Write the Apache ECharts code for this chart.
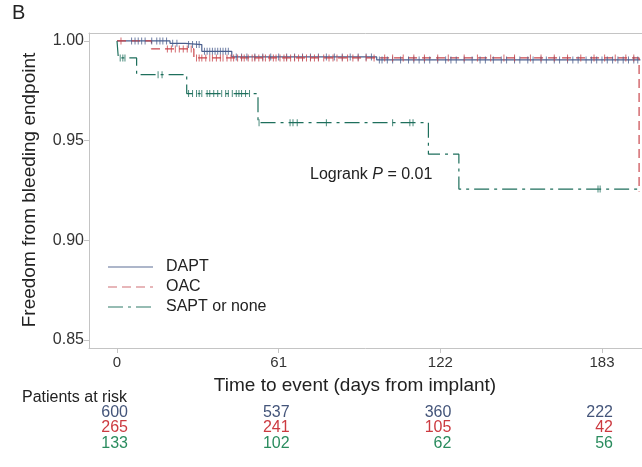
<!DOCTYPE html>
<html>
<head>
<meta charset="utf-8">
<script src="https://cdn.jsdelivr.net/npm/echarts@6/dist/echarts.min.js"></script>
<style>
  html, body { margin: 0; padding: 0; background: #ffffff; }
  #chart { width: 642px; height: 467px; }
</style>
</head>
<body>
<div id="chart"></div>
<script>
// Kaplan-Meier curves: freedom from bleeding endpoint by antithrombotic regimen
const groupNames = ['DAPT', 'OAC', 'SAPT or none'];

// Step functions: survival estimate after each event day
const daptDays = [0, 20, 25.7, 32, 43.3, 98, 197.5];
const daptSurv = [1.000, 0.9988, 0.9982, 0.9948, 0.9920, 0.9905, 0.9905];

const oacDays = [0, 13, 29, 197];
const oacSurv = [1.000, 0.9960, 0.9915, 0.9245];

const saptDays = [0, 0.5, 7.4, 26.3, 53.2, 117.5, 129, 197.5];
const saptSurv = [1.000, 0.9915, 0.9831, 0.9736, 0.9590, 0.9432, 0.9257, 0.9257];

// Censoring days (tick marks on each curve)
const daptCensor = [5.5, 6.8, 8, 9.3, 10.6, 13.1, 15, 16.2, 17.3, 18.7, 21, 22.6,
  27, 28.5, 30, 31, 33, 34, 35, 36, 37, 38, 39, 40, 41, 42,
  45, 47, 49, 52, 55, 58, 61, 64, 67, 70, 73, 76, 79, 82, 85, 88, 91, 94, 96,
  99, 100, 102, 104, 107, 110, 112, 114, 116, 118, 121, 124, 126, 128, 131, 134,
  137, 139, 142, 145, 147, 150, 152, 155, 157, 160, 162, 165, 167, 170, 172, 174,
  177, 179, 181, 183, 185, 187, 189, 191, 193, 195, 196.5];
const oacCensor = [1.5, 19, 20.5, 22, 23.5, 25, 26.5, 28,
  30, 31, 32, 33.5, 35, 36, 37.5, 39, 40, 41.5, 43, 44, 45.5, 47, 48, 49.5, 51, 52,
  53.5, 55, 56, 57.5, 59, 60, 61.5, 63, 64, 65.5, 67, 68.5, 70, 71.5, 73, 74.5, 76,
  78, 80, 81.5, 83, 85, 87, 89, 91, 94, 97, 101, 104, 108, 112, 116, 121, 125, 131,
  136, 141, 146, 150, 156, 160, 165, 170, 175, 180, 184, 188, 192, 195];
const saptCensor = [1.2, 2.2, 3, 15.5, 17, 27, 28.5, 30, 31, 32, 34, 35, 36.5, 38,
  39.5, 41, 42, 43.5, 45, 46, 47, 48.5, 50, 53.6, 65.3, 66.4, 68, 79, 104, 110.5,
  111.7, 181.5, 182.3];

// Numbers at risk
const riskDays = [0, 61, 122, 183];
const daptAtRisk = [600, 537, 360, 222];
const oacAtRisk = [265, 241, 105, 42];
const saptAtRisk = [133, 102, 62, 56];

const xTickValues = [0, 61, 122, 183];
const yTickValues = [0.85, 0.90, 0.95, 1.00];

const colDapt = '#4b5f8e';
const colOac = '#c9464c';
const colSapt = '#1e6f5c';
const numDapt = '#44557a';
const numOac = '#cc3a40';
const numSapt = '#2a8c5e';
const FONT = '"Liberation Sans", Arial, Helvetica, sans-serif';
const dashOac = [9, 5];
const dashSapt = [15, 5, 3, 5];

function survivalAt(days, surv, t) {
  let s = surv[0];
  for (let i = 0; i < days.length; i++) { if (days[i] <= t) s = surv[i]; }
  return s;
}
function stepData(days, surv) { return days.map((d, i) => [d, surv[i]]); }
function censorData(days, surv, cens) { return cens.map(t => [t, survivalAt(days, surv, t)]); }

const chart = echarts.init(document.getElementById('chart'), null, { renderer: 'canvas' });

function kmLine(name, days, surv, color, dash) {
  return {
    name: name, type: 'line', step: 'end', data: stepData(days, surv),
    symbol: 'none', showSymbol: false, silent: true,
    lineStyle: { color: color, width: 1.2, type: dash },
    itemStyle: { color: color }, z: 3
  };
}
function censorMarks(name, days, surv, cens, color) {
  return {
    name: name, type: 'scatter', data: censorData(days, surv, cens),
    symbol: 'rect', symbolSize: [1, 7], silent: true,
    itemStyle: { color: color }, z: 3
  };
}

const frameColor = '#c4c4c4';

chart.setOption({
  animation: false,
  grid: { left: 89, top: 33, right: 0, bottom: 119, show: false },
  xAxis: [{
    type: 'value', min: -10.57, max: 198.1,
    axisLine: { show: true, onZero: false, lineStyle: { color: frameColor } },
    axisTick: { show: true, length: 5, customValues: xTickValues, lineStyle: { color: frameColor } },
    axisLabel: { customValues: xTickValues, color: '#333333', fontSize: 15, fontFamily: FONT, margin: 7 },
    splitLine: { show: false }
  }, {
    // top edge of the plot frame
    type: 'value', position: 'top', min: -10.57, max: 198.1,
    axisLine: { show: true, onZero: false, lineStyle: { color: frameColor } },
    axisTick: { show: false }, axisLabel: { show: false }, splitLine: { show: false }
  }],
  yAxis: {
    type: 'value', min: 0.846, max: 1.004,
    axisLine: { show: true, onZero: false, lineStyle: { color: frameColor } },
    axisTick: { show: true, length: 5, customValues: yTickValues, lineStyle: { color: frameColor } },
    axisLabel: { customValues: yTickValues, color: '#333333', fontSize: 16, fontFamily: FONT, margin: 5,
      formatter: v => v.toFixed(2) },
    splitLine: { show: false }
  },
  series: [
    kmLine('DAPT', daptDays, daptSurv, colDapt, 'solid'),
    censorMarks('DAPT censored', daptDays, daptSurv, daptCensor, colDapt),
    kmLine('OAC', oacDays, oacSurv, colOac, dashOac),
    censorMarks('OAC censored', oacDays, oacSurv, oacCensor, colOac),
    kmLine('SAPT or none', saptDays, saptSurv, colSapt, dashSapt),
    censorMarks('SAPT censored', saptDays, saptSurv, saptCensor, colSapt)
  ]
});

// Annotations, legend and numbers-at-risk table
const gfx = [
  { type: 'text', left: 12, top: 3, style: { text: 'B', fontSize: 20, fontFamily: FONT, fill: '#222' } },
  { type: 'text', x: 30, y: 190, rotation: Math.PI / 2,
    style: { text: 'Freedom from bleeding endpoint', fontSize: 19, fontFamily: FONT, fill: '#222',
      align: 'center', verticalAlign: 'middle' } },
  { type: 'text', x: 355, y: 386,
    style: { text: 'Time to event (days from implant)', fontSize: 19, fontFamily: FONT, fill: '#222',
      align: 'center', verticalAlign: 'middle' } },
  { type: 'text', x: 310, y: 175,
    style: { text: '{n|Logrank }{i|P}{n| = 0.01}', verticalAlign: 'middle',
      rich: { n: { fontSize: 16, fontFamily: FONT, fill: '#222' },
              i: { fontSize: 16, fontFamily: FONT, fontStyle: 'italic', fill: '#222' } } } },
  { type: 'text', x: 22, y: 398,
    style: { text: 'Patients at risk', fontSize: 16, fontFamily: FONT, fill: '#222', verticalAlign: 'middle' } }
];

const legendItems = [[groupNames[0], '#5d6e96', null], [groupNames[1], '#cf6f74', dashOac], [groupNames[2], '#2f7a68', dashSapt]];
legendItems.forEach(([label, color, dash], i) => {
  const yPos = 267 + i * 20;
  gfx.push({ type: 'line', shape: { x1: 108, y1: yPos, x2: 153, y2: yPos },
    style: { stroke: color, lineWidth: 1.2, lineDash: dash } });
  gfx.push({ type: 'text', x: 166, y: yPos,
    style: { text: label, fontSize: 16, fontFamily: FONT, fill: '#222', verticalAlign: 'middle' } });
});

const rows = [[daptAtRisk, numDapt, 413], [oacAtRisk, numOac, 428], [saptAtRisk, numSapt, 444]];
rows.forEach(([vals, color, yPos]) => {
  riskDays.forEach((d, i) => {
    const px = chart.convertToPixel({ xAxisIndex: 0 }, d);
    gfx.push({ type: 'text', x: px + 11, y: yPos,
      style: { text: String(vals[i]), fontSize: 16, fontFamily: FONT, fill: color,
        align: 'right', verticalAlign: 'middle' } });
  });
});
chart.setOption({ graphic: gfx });
</script>
</body>
</html>
